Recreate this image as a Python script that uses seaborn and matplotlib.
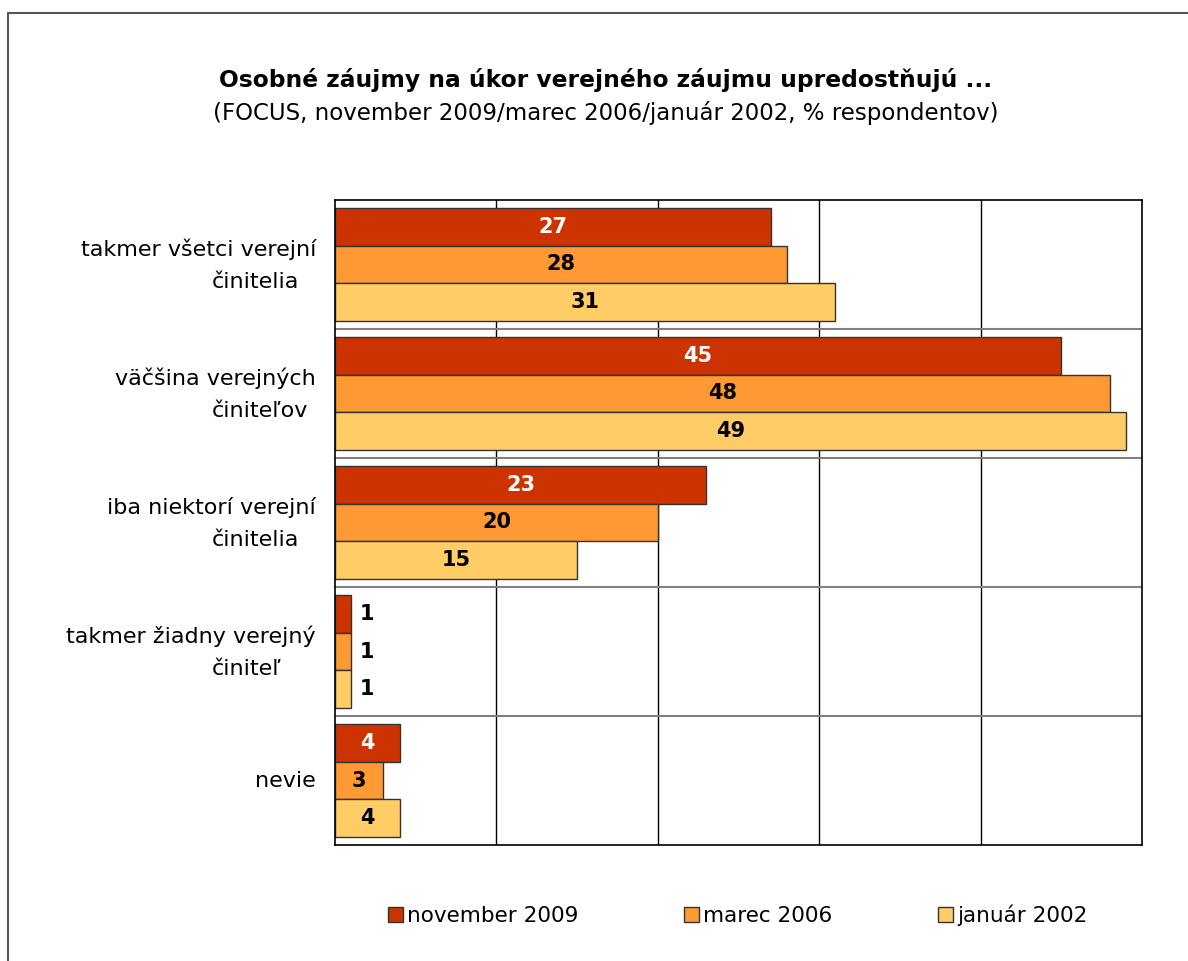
import pandas as pd
import matplotlib
matplotlib.use("Agg")
import matplotlib.pyplot as plt
from matplotlib.lines import Line2D
import seaborn as sns

# Chart data (% respondentov)
categories = [
    "takmer všetci verejní\nčinitelia",
    "väčšina verejných\nčiniteľov",
    "iba niektorí verejní\nčinitelia",
    "takmer žiadny verejný\nčiniteľ",
    "nevie",
]
series = ["november 2009", "marec 2006", "január 2002"]
nov_2009 = [27, 45, 23, 1, 4]
mar_2006 = [28, 48, 20, 1, 3]
jan_2002 = [31, 49, 15, 1, 4]
colors = ["#CC3300", "#FF9933", "#FFCC66"]

df = pd.DataFrame({
    "kategoria": categories * 3,
    "obdobie": [s for s in series for _ in categories],
    "hodnota": nov_2009 + mar_2006 + jan_2002,
})

sns.set_theme(style="white")
plt.rcParams["font.family"] = ["DejaVu Sans"]
plt.rcParams["text.color"] = "black"

fig = plt.figure(figsize=(11.88, 9.61), dpi=100)
ax = fig.add_axes([0.282, 0.1207, 0.6793, 0.6712])

sns.barplot(data=df, y="kategoria", x="hodnota", hue="obdobie", hue_order=series,
            palette=colors, orient="h", width=0.87, edgecolor="#333333",
            linewidth=1, saturation=1, ax=ax, legend=False)

ax.set_xlim(0, 50)
ax.set_ylim(4.5, -0.5)
ax.set_xlabel("")
ax.set_ylabel("")

# grid: black verticals, grey category separators
ax.set_xticks([10, 20, 30, 40])
ax.set_xticklabels([])
ax.set_yticks([0, 1, 2, 3, 4])
ax.set_yticklabels([])
ax.set_yticks([0.5, 1.5, 2.5, 3.5], minor=True)
ax.tick_params(axis="both", which="both", length=0)
ax.grid(False)
ax.xaxis.grid(True, color="black", linewidth=1)
ax.yaxis.grid(True, which="minor", color="#808080", linewidth=1.5)
ax.set_axisbelow(True)
for sp in ax.spines.values():
    sp.set_color("black")
    sp.set_linewidth(1.2)

# value labels
text_colors = ["white", "black", "black"]
for cont, vals, tc in zip(ax.containers, [nov_2009, mar_2006, jan_2002], text_colors):
    inside = [str(v) if v >= 2 else "" for v in vals]
    outside = [str(v) if v < 2 else "" for v in vals]
    ax.bar_label(cont, labels=inside, label_type="center", color=tc,
                 fontsize=15, fontweight="bold")
    ax.bar_label(cont, labels=outside, label_type="edge", padding=6,
                 color="black", fontsize=15, fontweight="bold")

# category labels (first line right-aligned, second line starts further left)
tr = ax.get_yaxis_transform()
for i, cat in enumerate(categories):
    lines = cat.split("\n")
    if len(lines) == 1:
        ax.text(-0.0235, i, lines[0], transform=tr, ha="right", va="center", fontsize=16)
    else:
        ax.text(-0.0235, i - 0.115, lines[0], transform=tr, ha="right", va="center", fontsize=16)
        ax.text(-0.1524, i + 0.135, lines[1], transform=tr, ha="left", va="center", fontsize=16)

# titles
fig.text(0.51, 0.9168, "Osobné záujmy na úkor verejného záujmu upredostňujú ...",
         ha="center", va="center", fontsize=16.8, fontweight="bold")
fig.text(0.51, 0.8824, "(FOCUS, november 2009/marec 2006/január 2002, % respondentov)",
         ha="center", va="center", fontsize=16.5)

# legend
handles = [plt.Rectangle((0, 0), 1, 1, facecolor=c, edgecolor="#333333", linewidth=1)
           for c in colors]
fig.legend(handles, series, loc="center", bbox_to_anchor=(0.621, 0.048), ncol=3,
           frameon=False, fontsize=15.5, handlelength=0.7, handleheight=0.7,
           handletextpad=0.2, columnspacing=4.9)

# outer chart border (top and left visible)
fig.add_artist(Line2D([8 / 1188, 1.0], [1 - 13 / 961] * 2, transform=fig.transFigure,
                      color="#555555", linewidth=1.5))
fig.add_artist(Line2D([8 / 1188] * 2, [0.0, 1 - 13 / 961], transform=fig.transFigure,
                      color="#555555", linewidth=1.5))

fig.savefig("out.png", dpi=100)
